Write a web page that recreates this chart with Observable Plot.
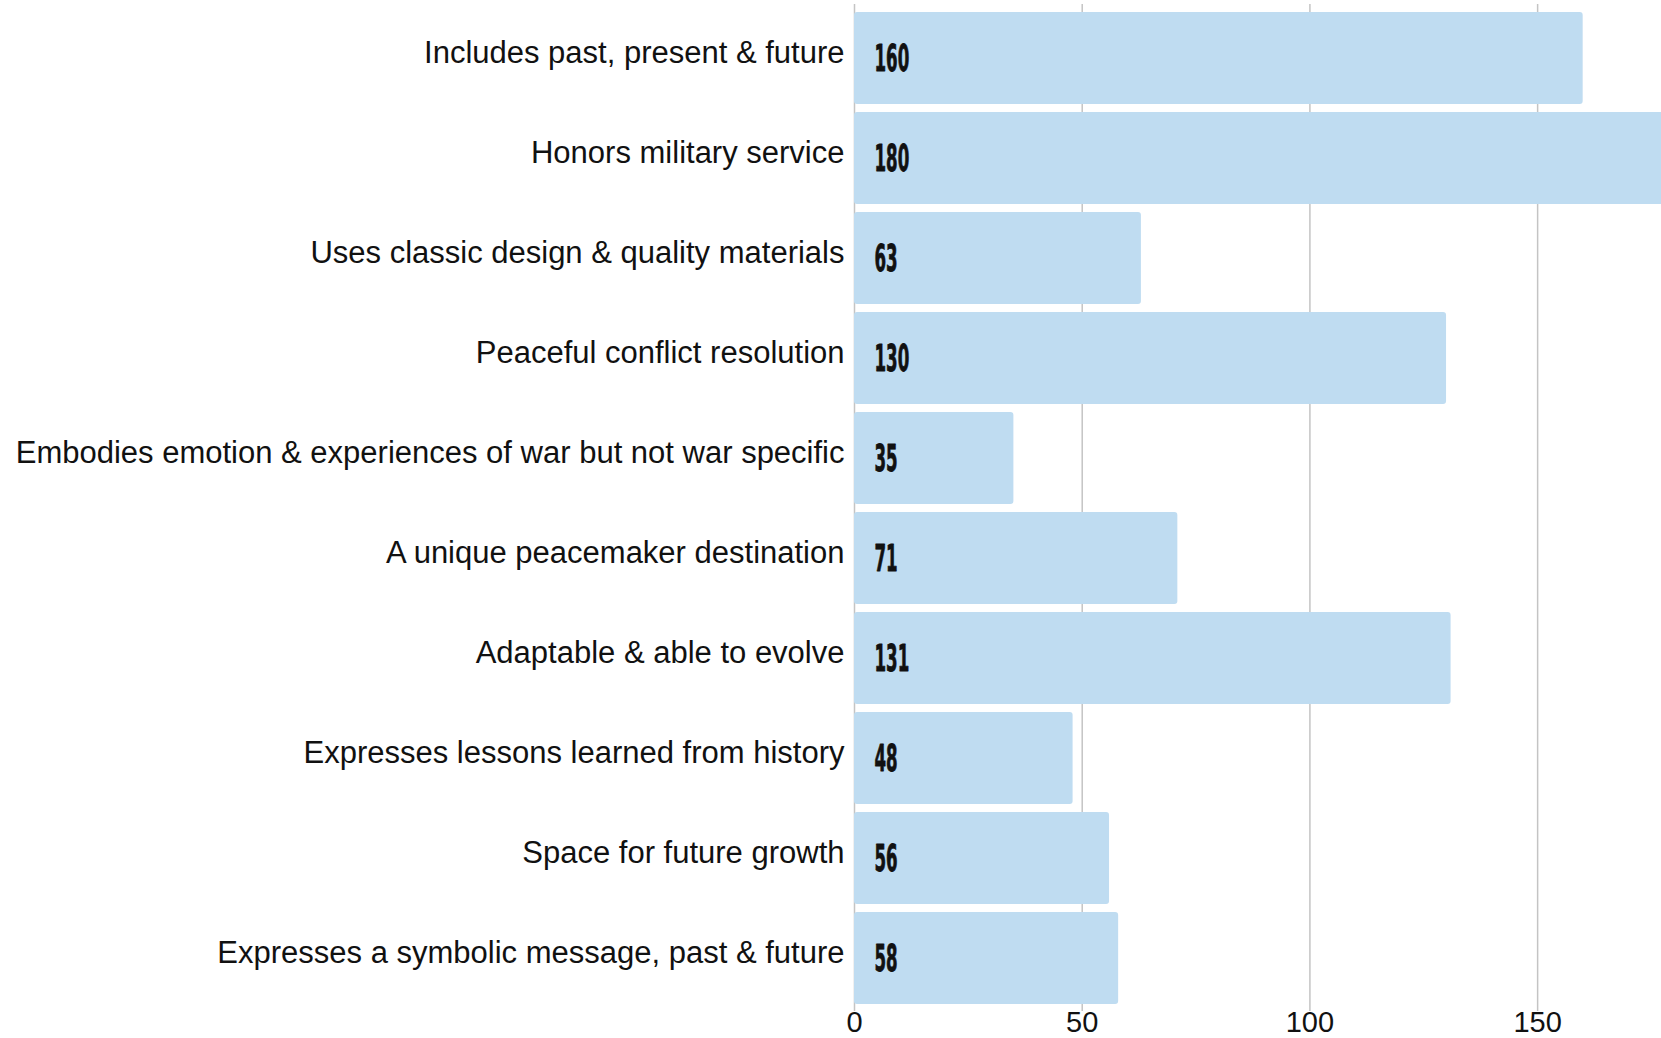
<!DOCTYPE html>
<html><head><meta charset="utf-8">
<script src="https://cdn.jsdelivr.net/npm/d3@7"></script>
<script src="https://cdn.jsdelivr.net/npm/@observablehq/plot@0.6"></script>
<style>html,body{margin:0;padding:0;background:#fff;overflow:hidden}</style>
</head><body><div id="chart"></div>
<script>
const categories = [
  "Includes past, present & future",
  "Honors military service",
  "Uses classic design & quality materials",
  "Peaceful conflict resolution",
  "Embodies emotion & experiences of war but not war specific",
  "A unique peacemaker destination",
  "Adaptable & able to evolve",
  "Expresses lessons learned from history",
  "Space for future growth",
  "Expresses a symbolic message, past & future"
];
const values = [160, 180, 63, 130, 35, 71, 131, 48, 56, 58];
const xTicks = [0, 50, 100, 150];

const data = categories.map((c, i) => ({category: c, value: values[i]}));

const chart = Plot.plot({
  width: 1661,
  height: 1038,
  marginLeft: 854,
  marginRight: 0,
  marginTop: 4,
  marginBottom: 27,
  style: {fontFamily: "'Liberation Sans', Arial, sans-serif", background: "#fff", color: "#111", overflow: "hidden"},
  x: {domain: [0, 177.2], axis: null},
  y: {domain: categories, padding: 0, axis: null},
  marks: [
    Plot.gridX({ticks: xTicks, stroke: "#c4c4c4", strokeOpacity: 1, strokeWidth: 1.5}),
    Plot.barX(data, {x: "value", y: "category", fill: "#bfdcf1", insetTop: 4, insetBottom: 4, rx: 3}),
    Plot.text(data, {x: 0, y: "category", text: d => String(d.value), textAnchor: "start", dx: 20, dy: 1,
      fontFamily: "'DejaVu Sans Condensed', 'DejaVu Sans', sans-serif", fontWeight: "bold", fontSize: 37,
      fill: "#111", stroke: "#111", strokeWidth: 0.8}),
    Plot.axisY({tickSize: 0, tickPadding: 10, fontSize: 31, dy: -5, label: null, fill: "#111"}),
    Plot.axisX({ticks: xTicks, tickSize: 0, tickPadding: 0, fontSize: 29, label: null, fill: "#111"})
  ]
});
document.getElementById("chart").appendChild(chart);

// condense the value labels horizontally
d3.select(chart).selectAll('g[aria-label="text"] text').each(function() {
  const el = d3.select(this);
  let t = el.attr("transform");
  if (!t) {
    const x = +el.attr("x") || 0, y = +el.attr("y") || 0;
    el.attr("x", null).attr("y", null);
    t = `translate(${x},${y})`;
  }
  el.attr("transform", t + " scale(0.5,1)");
});
</script>
</body></html>
